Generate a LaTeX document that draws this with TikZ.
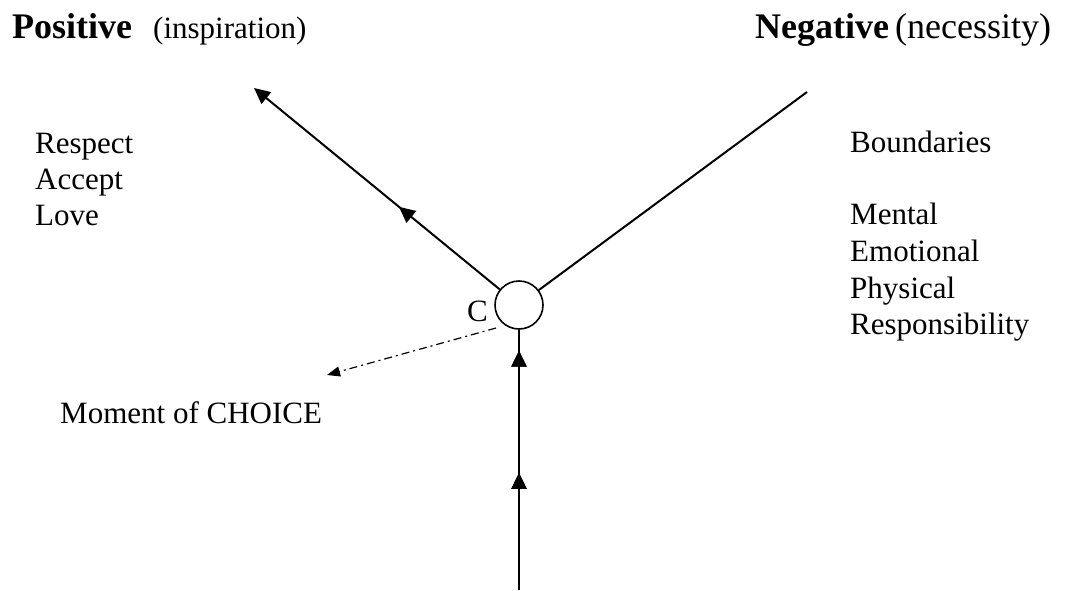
\documentclass[tikz,border=0pt]{standalone}
\usepackage{fontspec}
\setmainfont{Liberation Serif}
\usetikzlibrary{arrows.meta,decorations.markings}

\begin{document}
\begin{tikzpicture}[
  x=1pt, y=-1pt,
  every node/.style={inner sep=0pt, font=\fontsize{31}{36}\selectfont},
  item/.style={anchor=base west},
  heading/.style={anchor=base west, font=\fontsize{36}{42}\selectfont\bfseries},
  choice node/.style={draw, circle, minimum size=48pt, line width=1.6pt},
  main line/.style={line width=2pt},
  mid arrow/.style={
    postaction={decorate},
    decoration={markings,
      mark=at position #1 with {\arrow{Triangle[length=16pt,width=15pt]}}}
  },
]
  \useasboundingbox (0,0) rectangle (1067,590);

  % Headings
  \node[heading] (pos) at (12,38) {Positive};
  \node[item] (pos_note) at (153,38) {(inspiration)};
  \node[heading] (neg) at (755,38) {Negative};
  \node[item, font=\fontsize{36}{42}\selectfont] (neg_note) at (895,38) {(necessity)};

  % Lists, node names: l1, l2, ... and r1, r2, ...
  \foreach \t [count=\i] in {Respect, Accept, Love} {
    \node[item] (l\i) at (35,{117+36*\i}) {\t};
  }
  \foreach \t/\y [count=\i] in {Boundaries/152, Mental/224, Emotional/261,
                                Physical/298, Responsibility/334} {
    \node[item] (r\i) at (850,\y) {\t};
  }

  % Moment of choice
  \node[choice node] (ring) at (519,305) {};
  \node[item] (c) at (467,321) {C};
  \node[item] (moment) at (60,423) {Moment of CHOICE};

  \coordinate (start) at (519,590);
  \coordinate (up) at (254,88);
  \coordinate (down) at (807,92);
  \coordinate (cfrom) at (496,328);
  \coordinate (cto) at (327,375);

  % Paths
  \draw[main line, mid arrow=0.45, mid arrow=0.92] (start) -- (ring.south);
  \draw[main line, mid arrow=0.41, -{Triangle[length=16pt,width=15pt]}]
    (ring.141) -- (up);
  \draw[main line] (ring.37) -- (down);
  \draw[line width=1.2pt, dash pattern=on 8pt off 4pt on 2pt off 4pt,
        -{Triangle[length=13pt,width=10pt]}]
    (cfrom) -- (cto);
\end{tikzpicture}
\end{document}
